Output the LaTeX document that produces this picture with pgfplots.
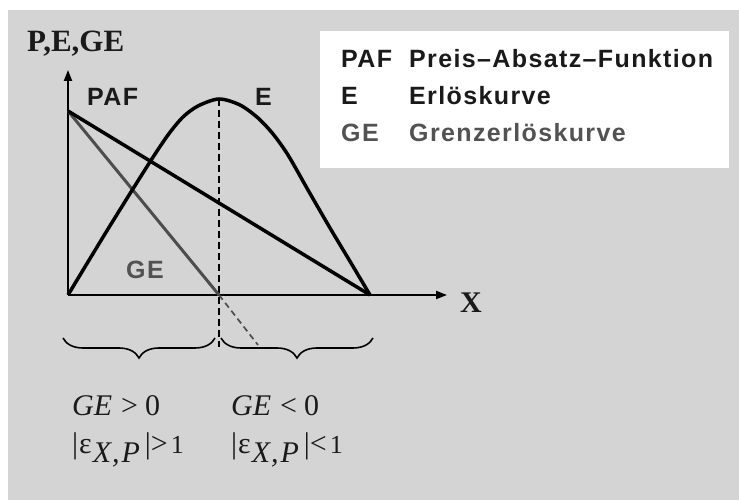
\documentclass[border=0pt]{standalone}
\usepackage{fontspec}
\setmainfont{Liberation Serif}
\newfontfamily\sans{Liberation Sans}[LetterSpace=5.5]
\usepackage{pgfplots}
\pgfplotsset{compat=1.18}
\usetikzlibrary{arrows.meta,decorations.pathreplacing}
\definecolor{bg}{HTML}{D4D4D4}
\definecolor{gel}{HTML}{4D4D4D}
\definecolor{txt}{HTML}{1A1A1A}
\definecolor{getxt}{HTML}{525252}
\newcommand{\sz}[1]{\fontsize{#1bp}{#1bp}\selectfont}
\newcommand{\elast}[1]{\sz{30}|\hspace{1bp}ε\hspace{1bp}\raisebox{-9bp}{\textit{X\hspace{1bp},\hspace{2bp}P}}\hspace{5bp}|\hspace{0bp}#1\hspace{3bp}\sz{26}1}
\begin{document}
\begin{tikzpicture}
\begin{axis}[x=1bp,y=1bp,xmin=-68,xmax=671,ymin=-205,ymax=295,hide axis,scale only axis,clip=false]
\fill[white] (axis cs:-68,-205) rectangle (axis cs:671,295);
\fill[bg] (axis cs:-60,-205) rectangle (axis cs:671,285);
\fill[white] (axis cs:252,127) rectangle (axis cs:661,264);
% axes
\draw[line width=2bp,-{Triangle[length=11bp,width=8bp]}] (axis cs:0,0) -- (axis cs:0,225);
\draw[line width=2bp,-{Triangle[length=11bp,width=8bp]}] (axis cs:0,0) -- (axis cs:379,0);
% dashed vertical
\addplot[black,line width=2bp,dash pattern=on 7bp off 4bp] coordinates {(151,196) (151,-52)};
% GE
\addplot[gel,line width=3bp] coordinates {(0,184) (151,0)};
\addplot[gel,line width=1.7bp,dash pattern=on 6bp off 4bp] coordinates {(151,0) (190,-50)};
% PAF
\addplot[black,line width=3.5bp] coordinates {(0,184) (302,0)};
% E
\addplot[black,line width=3.5bp,smooth] coordinates {(0,0) (40,66) (80,130) (100,160) (115,178) (130,189) (151,196) (172,190) (190,177) (205,161) (220,140) (240,105) (262,67) (283,32) (302,0)};
% braces
\draw[line width=1.6bp,decorate,decoration={brace,mirror,amplitude=20bp}] (axis cs:-5,-43) -- (axis cs:147,-43);
\draw[line width=1.6bp,decorate,decoration={brace,mirror,amplitude=20bp}] (axis cs:153,-43) -- (axis cs:305,-43);
% labels
\node[anchor=base west,inner sep=0pt,txt] at (axis cs:-41,243) {\sz{31}\bfseries P,E,GE};
\node[anchor=base west,inner sep=0pt,txt] at (axis cs:392,-18) {\sz{30}\bfseries X};
\node[anchor=base west,inner sep=0pt,txt] at (axis cs:19,189) {\sans\sz{25}\bfseries PAF};
\node[anchor=base west,inner sep=0pt,txt] at (axis cs:187,189) {\sans\sz{25}\bfseries E};
\node[anchor=base west,inner sep=0pt,getxt] at (axis cs:58,16) {\sans\sz{25}\bfseries GE};
% legend
\node[anchor=base west,inner sep=0pt,txt] at (axis cs:273,227.7) {\sans\sz{25}\bfseries PAF};
\node[anchor=base west,inner sep=0pt,txt] at (axis cs:341,227.7) {\sans\sz{25}\bfseries Preis–Absatz–Funktion};
\node[anchor=base west,inner sep=0pt,txt] at (axis cs:273,190) {\sans\sz{25}\bfseries E};
\node[anchor=base west,inner sep=0pt,txt] at (axis cs:341,190) {\sans\sz{25}\bfseries Erlöskurve};
\node[anchor=base west,inner sep=0pt,getxt] at (axis cs:273,153.3) {\sans\sz{25}\bfseries GE};
\node[anchor=base west,inner sep=0pt,getxt] at (axis cs:341,153.3) {\sans\sz{25}\bfseries Grenzerlöskurve};
% conditions
\node[anchor=base west,inner sep=0pt,txt] at (axis cs:4,-121) {\sz{30}\textit{GE}\hspace{9bp}>\hspace{7bp}0};
\node[anchor=base west,inner sep=0pt,txt] at (axis cs:163,-121) {\sz{30}\textit{GE}\hspace{9bp}<\hspace{7bp}0};
\node[anchor=base west,inner sep=0pt,txt] at (axis cs:4,-159) {\elast{>}};
\node[anchor=base west,inner sep=0pt,txt] at (axis cs:163,-159) {\elast{<}};
\end{axis}
\end{tikzpicture}
\end{document}
